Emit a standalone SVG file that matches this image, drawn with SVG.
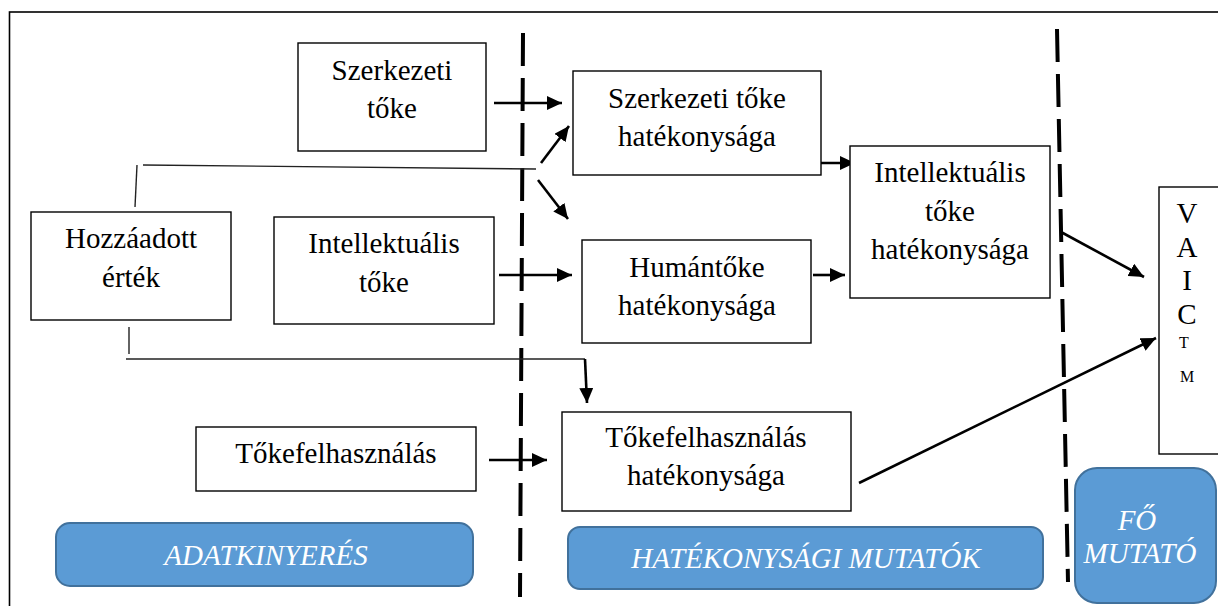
<svg xmlns="http://www.w3.org/2000/svg" width="1218" height="606" viewBox="0 0 1218 606">
<style>
.box{fill:#fff;stroke:#000;stroke-width:1.4}
.t{font-family:'Liberation Serif','DejaVu Serif',serif;font-size:29px;fill:#000;text-anchor:middle}
.lbl{fill:#5B9BD5;stroke:#41719C;stroke-width:2}
.lt{font-family:'Liberation Serif','DejaVu Serif',serif;font-size:29px;font-style:italic;fill:#fff;text-anchor:middle}
.arr{stroke:#000;stroke-width:2.6;fill:none;marker-end:url(#ah)}
.thin{stroke:#222;stroke-width:1.4;fill:none}
.dash{stroke:#000;stroke-width:4;stroke-dasharray:33 12;fill:none}
.sm{font-family:'Liberation Serif','DejaVu Serif',serif;font-size:16px;fill:#000;text-anchor:middle}
</style>
<defs>
<marker id="ah" markerUnits="userSpaceOnUse" markerWidth="16" markerHeight="14" refX="15" refY="7" orient="auto">
<path d="M0,0 L15,7 L0,14 z" fill="#000"/>
</marker>
</defs>
<rect x="0" y="0" width="1218" height="606" fill="#fff"/>
<rect x="9.5" y="12" width="1230" height="620" fill="none" stroke="#000" stroke-width="1.6"/>

<g id="dividers">
<line class="dash" x1="523" y1="33" x2="520" y2="597"/>
<line class="dash" x1="1057" y1="29" x2="1068" y2="582"/>
</g>

<g id="labels">
<g id="adatkinyeres"><rect class="lbl" x="56" y="523" width="417" height="63" rx="14"/><text class="lt" x="266" y="565">ADATKINYERÉS</text></g>
<g id="hatekonysagi"><rect class="lbl" x="568" y="527" width="475" height="62" rx="12"/><text class="lt" x="806" y="568">HATÉKONYSÁGI MUTATÓK</text></g>
<g id="fomutato"><rect class="lbl" x="1075" y="468" width="141" height="135" rx="22"/><text class="lt" x="1137" y="530">FŐ</text><text class="lt" x="1140" y="563">MUTATÓ</text></g>
</g>

<g id="connectors">
<line class="arr" x1="494" y1="103" x2="562" y2="103"/>
<line class="arr" x1="499" y1="275" x2="572" y2="275"/>
<line class="arr" x1="489" y1="460" x2="547" y2="460"/>
<line class="arr" x1="821" y1="163" x2="855" y2="163"/>
<line class="arr" x1="813" y1="275" x2="845" y2="275"/>
<line class="arr" x1="1061" y1="232" x2="1144" y2="277"/>
<line class="arr" x1="859" y1="483" x2="1156" y2="338"/>
<polyline class="thin" points="135,207 137,165"/>
<polyline class="thin" points="143,165 536,169"/>
<line class="arr" x1="541" y1="163" x2="569" y2="126"/>
<line class="arr" x1="538" y1="180" x2="568" y2="219"/>
<polyline class="thin" points="129,327 129,354"/>
<polyline class="thin" points="126,359 585,359"/>
<line class="arr" x1="585" y1="359" x2="587" y2="403"/>
</g>

<g id="szerkezeti-toke"><rect class="box" x="298" y="43" width="188" height="108"/><text class="t" x="392" y="80">Szerkezeti</text><text class="t" x="392" y="118">tőke</text></g>
<g id="hozzaadott-ertek"><rect class="box" x="31" y="212" width="200" height="108"/><text class="t" x="131" y="248">Hozzáadott</text><text class="t" x="131" y="287">érték</text></g>
<g id="intellektualis-toke"><rect class="box" x="274" y="217" width="220" height="107"/><text class="t" x="384" y="253">Intellektuális</text><text class="t" x="384" y="292">tőke</text></g>
<g id="tokefelhasznalas"><rect class="box" x="196" y="427" width="280" height="64"/><text class="t" x="336" y="463">Tőkefelhasználás</text></g>
<g id="szerkezeti-hat"><rect class="box" x="573" y="71" width="248" height="104"/><text class="t" x="697" y="108">Szerkezeti tőke</text><text class="t" x="697" y="146">hatékonysága</text></g>
<g id="human-hat"><rect class="box" x="582" y="240" width="229" height="103"/><text class="t" x="697" y="277">Humántőke</text><text class="t" x="697" y="315">hatékonysága</text></g>
<g id="tokefelh-hat"><rect class="box" x="562" y="412" width="289" height="99"/><text class="t" x="706" y="447">Tőkefelhasználás</text><text class="t" x="706" y="485">hatékonysága</text></g>
<g id="intellektualis-hat"><rect class="box" x="850" y="146" width="200" height="152"/><text class="t" x="950" y="182">Intellektuális</text><text class="t" x="950" y="221">tőke</text><text class="t" x="950" y="259">hatékonysága</text></g>
<g id="vaic"><rect class="box" x="1159" y="187" width="80" height="267"/>
<text class="t" x="1187" y="223">V</text><text class="t" x="1187" y="257">A</text><text class="t" x="1187" y="290">I</text><text class="t" x="1187" y="324">C</text>
<text class="sm" x="1184" y="348">T</text><text class="sm" x="1187" y="382">M</text></g>
</svg>
